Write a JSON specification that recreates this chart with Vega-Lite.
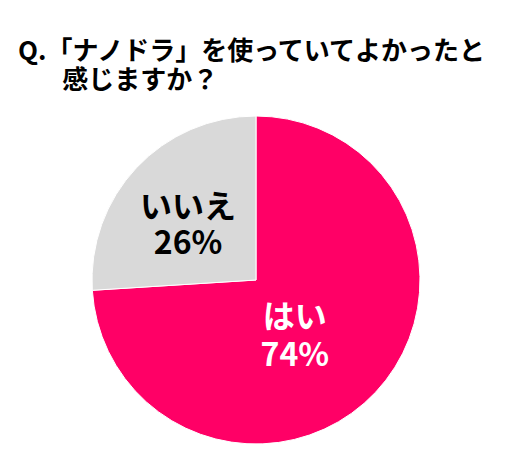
{
  "$schema": "https://vega.github.io/schema/vega-lite/v6.json",
  "autosize": "none",
  "width": 330,
  "height": 330,
  "padding": {"left": 91, "top": 115, "right": 94, "bottom": 18},
  "background": "white",
  "title": {
    "text": ["Q.「ナノドラ」を使っていてよかったと", "\u200b\u3000\u2002\u2009感じますか？"],
    "anchor": "start",
    "frame": "group",
    "dx": -73,
    "offset": 20,
    "font": "Noto Sans CJK JP",
    "fontSize": 26,
    "fontWeight": "bold",
    "lineHeight": 29,
    "color": "black"
  },
  "data": {
    "values": [
      {"answer": "はい", "share": 74, "lbl": "はい\n74%"},
      {"answer": "いいえ", "share": 26, "lbl": "いいえ\n26%"}
    ]
  },
  "encoding": {
    "theta": {"field": "share", "type": "quantitative", "stack": true},
    "order": {"field": "share", "sort": "descending"}
  },
  "layer": [
    {
      "mark": {"type": "arc", "radius": 164, "stroke": "white", "strokeWidth": 1},
      "encoding": {
        "color": {
          "field": "answer",
          "type": "nominal",
          "scale": {"domain": ["はい", "いいえ"], "range": ["#FF0066", "#D9D9D9"]},
          "legend": null
        }
      }
    },
    {
      "mark": {
        "type": "text", "radius": 67, "dx": -10, "dy": -8,
        "lineBreak": "\n", "lineHeight": 38,
        "font": "Noto Sans CJK JP", "fontSize": 32, "fontWeight": "bold",
        "color": "white", "align": "center", "baseline": "middle"
      },
      "encoding": {
        "text": {"condition": {"test": "datum.answer == 'はい'", "field": "lbl"}, "value": ""}
      }
    },
    {
      "mark": {
        "type": "text", "radius": 85, "dx": -6, "dy": -14,
        "lineBreak": "\n", "lineHeight": 36,
        "font": "Noto Sans CJK JP", "fontSize": 32, "fontWeight": "bold",
        "color": "black", "align": "center", "baseline": "middle"
      },
      "encoding": {
        "text": {"condition": {"test": "datum.answer == 'いいえ'", "field": "lbl"}, "value": ""}
      }
    }
  ]
}
